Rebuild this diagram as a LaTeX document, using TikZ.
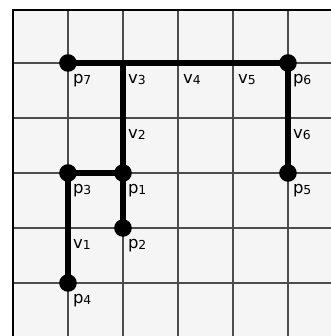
\documentclass[tikz,border=0pt]{standalone}
\usepackage{fontspec}
\setmainfont{DejaVu Sans}
\usetikzlibrary{positioning}
\newcommand{\ptname}[2]{#1\raisebox{-0.15ex}{\fontsize{6.4}{7}\selectfont #2}}

\begin{document}
\begin{tikzpicture}[
    every node/.style={font=\fontsize{8.5}{10}\selectfont},
    dot/.style={circle, fill=black, inner sep=0pt, minimum size=0.32cm},
    lab/.style={inner sep=0pt},
    gridline/.style={line width=1pt, draw=black!70},
    path/.style={line width=3.1pt, line cap=round}
]
\useasboundingbox (-0.236,-5.964) rectangle (5.782,0.145);
\fill[black!4] (0,-0.036) rectangle (5.782,-5.964);
% grid
\foreach \i in {1,...,5} {
  \draw[gridline] (\i,-0.036) -- (\i,-5.964);
  \draw[gridline] (0,-\i) -- (5.782,-\i);
}
\draw[line width=0.8pt] (0,-5.964) -- (0,-0.036) -- (5.782,-0.036);
% points
\node[dot] (p7) at (1,-1) {};
\node[dot] (p6) at (5,-1) {};
\node[dot] (p5) at (5,-3) {};
\node[dot] (p3) at (1,-3) {};
\node[dot] (p1) at (2,-3) {};
\node[dot] (p2) at (2,-4) {};
\node[dot] (p4) at (1,-5) {};
\coordinate (v3) at (2,-1);
\coordinate (v4) at (3,-1);
\coordinate (v5) at (4,-1);
\coordinate (v2) at (2,-2);
\coordinate (v6) at (5,-2);
\coordinate (v1) at (1,-4);
% paths
\draw[path] (p7.center) -- (p6.center) -- (p5.center);
\draw[path] (v3) -- (p1.center) -- (p2.center);
\draw[path] (p1.center) -- (p3.center) -- (p4.center);
% labels
\node[lab, below right=0.2cm and 0.085cm of p7.center] (l-p7) {\ptname{p}{7}};
\node[lab, below right=0.2cm and 0.085cm of p6.center] (l-p6) {\ptname{p}{6}};
\node[lab, below right=0.2cm and 0.085cm of p5.center] (l-p5) {\ptname{p}{5}};
\node[lab, below right=0.2cm and 0.085cm of p3.center] (l-p3) {\ptname{p}{3}};
\node[lab, below right=0.2cm and 0.085cm of p1.center] (l-p1) {\ptname{p}{1}};
\node[lab, below right=0.2cm and 0.085cm of p2.center] (l-p2) {\ptname{p}{2}};
\node[lab, below right=0.2cm and 0.085cm of p4.center] (l-p4) {\ptname{p}{4}};
\node[lab, below right=0.2cm and 0.085cm of v3] (l-v3) {\ptname{v}{3}};
\node[lab, below right=0.2cm and 0.085cm of v4] (l-v4) {\ptname{v}{4}};
\node[lab, below right=0.2cm and 0.085cm of v5] (l-v5) {\ptname{v}{5}};
\node[lab, below right=0.2cm and 0.085cm of v2] (l-v2) {\ptname{v}{2}};
\node[lab, below right=0.2cm and 0.085cm of v6] (l-v6) {\ptname{v}{6}};
\node[lab, below right=0.2cm and 0.085cm of v1] (l-v1) {\ptname{v}{1}};
\end{tikzpicture}
\end{document}
